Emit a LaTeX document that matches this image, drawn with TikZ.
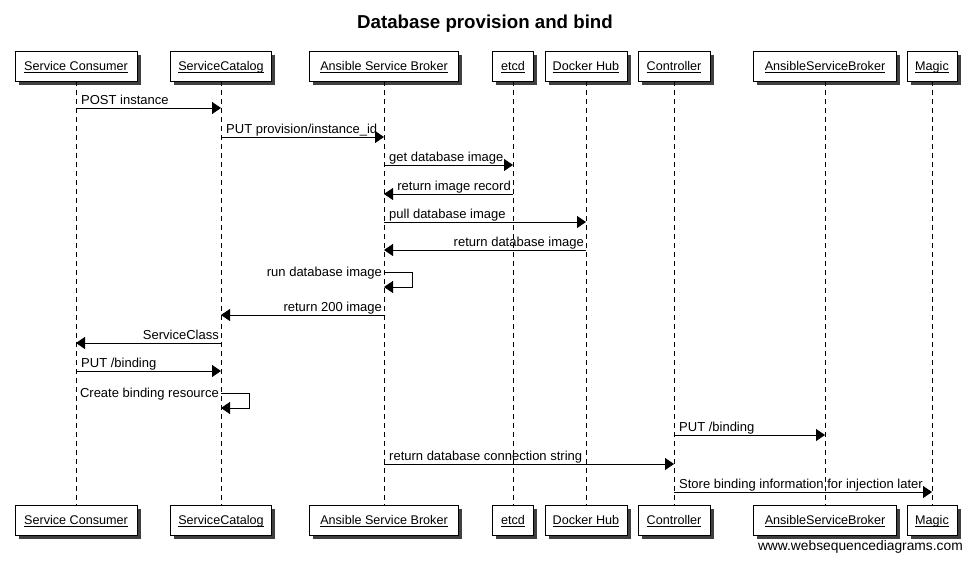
\documentclass[tikz,border=0pt]{standalone}
\usepackage{fontspec}
\setmainfont{Liberation Sans}
\usetikzlibrary{arrows.meta,shadows,calc}
\newcommand\ulin[1]{\setbox0\hbox{#1}\rlap{\rule[-2.2pt]{\wd0}{0.8pt}}\box0}
\newcommand\msgR[5]{%
  \draw[msg] (#2 |- 0,#4) -- (#3 |- 0,#4);
  \node[lbl, anchor=base west] (#1) at ($(#2 |- 0,#4)+(5,-4)$) {#5};}
\newcommand\msgL[5]{%
  \draw[msg] (#2 |- 0,#4) -- (#3 |- 0,#4);
  \node[lbl, anchor=base east] (#1) at ($(#2 |- 0,#4)+(-2,-4)$) {#5};}
\newcommand\msgS[4]{%
  \draw[msg] (#2 |- 0,#3) -- ++(28,0) -- ++(0,15) -- ($(#2 |- 0,#3)+(0,15)$);
  \node[lbl, anchor=base east] (#1) at ($(#2 |- 0,#3)+(-2,4)$) {#4};}
\begin{document}
\begin{tikzpicture}[x=1pt,y=-1pt,
  actor/.style={draw=black, line width=0.9pt, fill=white, minimum height=30pt,
    inner sep=0pt, text height=10.5pt, text depth=1.5pt, font=\fontsize{12.6}{14}\selectfont,
    drop shadow={shadow xshift=3.5pt, shadow yshift=-3.5pt, fill=black!75, opacity=1}},
  lifeline/.style={line width=0.9pt, dash pattern=on 5pt off 4pt},
  msg/.style={line width=0.9pt, -{Triangle[length=9pt,width=12pt]}},
  lbl/.style={font=\fontsize{13}{15}\selectfont, inner sep=0pt}]
\useasboundingbox[fill=white] (0,0) rectangle (971,560);

\node[font=\bfseries\fontsize{18.7}{22}\selectfont, anchor=base] (title) at (485,28) {Database provision and bind};

% top actors
\node[actor, minimum width=122pt] (sc)    at (76,66)  {\ulin{Service Consumer}};
\node[actor, minimum width=101pt] (cat)   at (221,66) {\ulin{ServiceCatalog}};
\node[actor, minimum width=149pt] (asb)   at (384,66) {\ulin{Ansible Service Broker}};
\node[actor, minimum width=41pt]  (etcd)  at (513,66) {\ulin{etcd}};
\node[actor, minimum width=82pt]  (hub)   at (586,66) {\ulin{Docker Hub}};
\node[actor, minimum width=72pt]  (ctl)   at (674,66) {\ulin{Controller}};
\node[actor, minimum width=143pt] (asbb)  at (825,66) {\ulin{AnsibleServiceBroker}};
\node[actor, minimum width=50pt]  (magic) at (932,66) {\ulin{Magic}};

% bottom actors
\node[actor, minimum width=122pt] (scB)    at (76,520)  {\ulin{Service Consumer}};
\node[actor, minimum width=101pt] (catB)   at (221,520) {\ulin{ServiceCatalog}};
\node[actor, minimum width=149pt] (asbB)   at (384,520) {\ulin{Ansible Service Broker}};
\node[actor, minimum width=41pt]  (etcdB)  at (513,520) {\ulin{etcd}};
\node[actor, minimum width=82pt]  (hubB)   at (586,520) {\ulin{Docker Hub}};
\node[actor, minimum width=72pt]  (ctlB)   at (674,520) {\ulin{Controller}};
\node[actor, minimum width=143pt] (asbbB)  at (825,520) {\ulin{AnsibleServiceBroker}};
\node[actor, minimum width=50pt]  (magicB) at (932,520) {\ulin{Magic}};

% lifelines
\foreach \a in {sc,cat,asb,etcd,hub,ctl,asbb,magic}
  \draw[lifeline] (\a.south) -- (\a B.north);

% messages
\msgR{m1}{sc}{cat}{108}{POST instance}
\msgR{m2}{cat}{asb}{137}{PUT provision/instance\_id}
\msgR{m3}{asb}{etcd}{165}{get database image}
\msgL{m4}{etcd}{asb}{194}{return image record}
\msgR{m5}{asb}{hub}{222}{pull database image}
\msgL{m6}{hub}{asb}{250}{return database image}
\msgS{m7}{asb}{272}{run database image}
\msgL{m8}{asb}{cat}{315}{return 200 image}
\msgL{m9}{cat}{sc}{343}{ServiceClass}
\msgR{m10}{sc}{cat}{371}{PUT /binding}
\msgS{m11}{cat}{393}{Create binding resource}
\msgR{m12}{ctl}{asbb}{435}{PUT /binding}
\msgR{m13}{asb}{ctl}{464}{return database connection string}
\msgR{m14}{ctl}{magic}{492}{Store binding information for injection later}

\node[font=\fontsize{13.8}{16}\selectfont, anchor=base east, inner sep=0pt] (footer) at (963,550) {www.websequencediagrams.com};
\end{tikzpicture}
\end{document}
